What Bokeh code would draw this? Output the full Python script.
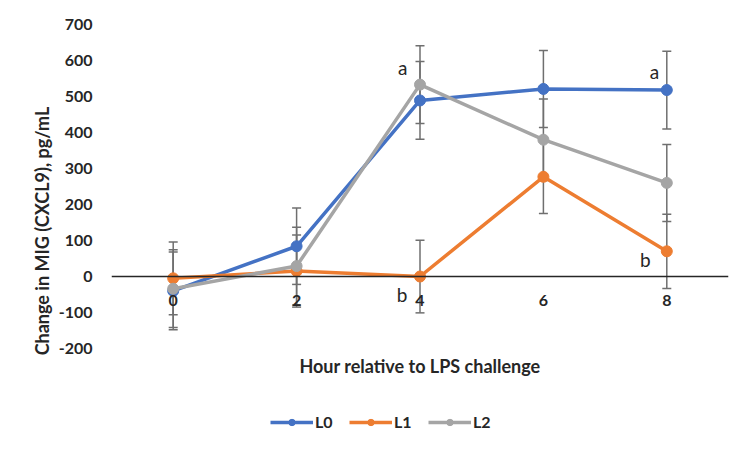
from bokeh.plotting import figure
from bokeh.models import (ColumnDataSource, Whisker, TeeHead, FixedTicker, Legend,
                          LegendItem, Label, Range1d)
from bokeh.core.properties import value
from bokeh.embed import file_html
from bokeh.resources import INLINE

hours = [0, 2, 4, 6, 8]
hour_labels = ["0", "2", "4", "6", "8"]
series_names = ["L0", "L1", "L2"]
L0 = [-40, 84, 489, 521, 518]
L0_err = [108, 106, 108, 107, 108]
L1 = [-5, 15, 0, 277, 70]
L1_err = [101, 100, 101, 102, 103]
L2 = [-34, 29, 533, 380, 260]
L2_err = [108, 108, 108, 113, 107]
letters = ["a", "a", "b", "b"]
letter_x = [3.72, 7.8, 3.71, 7.65]
letter_y = [580, 570, -50, 47]
y_ticks = [-200, -100, 0, 100, 200, 300, 400, 500, 600, 700]
y_tick_labels = ["-200", "-100", "0", "100", "200", "300", "400", "500", "600", "700"]
y_top = 700
y_bottom = -200

colors = ["#4472C4", "#ED7D31", "#A5A5A5"]
FONT = "Lato"
TXT = "#262626"

W, H = 736, 437
TOP, LEFT, RIGHT = 24, 111, 8
PLOT_H = 324  # pixels between 700 and -200
units_per_px = (y_top - y_bottom) / PLOT_H
frame_bottom_val = y_top - (H - TOP) * units_per_px

p = figure(width=W, height=H, output_backend="svg", toolbar_location=None,
           x_range=Range1d(-1, 9), y_range=Range1d(frame_bottom_val, y_top),
           min_border_left=LEFT, min_border_right=RIGHT, min_border_top=TOP,
           min_border_bottom=0)
p.outline_line_color = None
p.xgrid.visible = False
p.ygrid.visible = False

# y axis
p.yaxis.ticker = FixedTicker(ticks=y_ticks)
p.yaxis.major_label_overrides = {t: l for t, l in zip(y_ticks, y_tick_labels)}
p.yaxis.axis_line_color = None
p.yaxis.major_tick_line_color = None
p.yaxis.minor_tick_line_color = None
p.yaxis.major_tick_out = 0
p.yaxis.major_tick_in = 0
p.yaxis.major_label_standoff = 19
p.yaxis.major_label_text_font = FONT
p.yaxis.major_label_text_font_style = "bold"
p.yaxis.major_label_text_font_size = "16px"
p.yaxis.major_label_text_color = TXT
p.yaxis.axis_label = "Change in MIG (CXCL9), pg/mL"
p.yaxis.axis_label_text_font = FONT
p.yaxis.axis_label_text_font_style = "bold"
p.yaxis.axis_label_text_font_size = "18px"
p.yaxis.axis_label_text_color = TXT
p.yaxis.axis_label_standoff = 3

# x axis crossing at 0
p.xaxis.fixed_location = 0
p.xaxis.ticker = FixedTicker(ticks=hours)
p.xaxis.major_label_overrides = {h: l for h, l in zip(hours, hour_labels)}
p.xaxis.axis_line_color = TXT
p.xaxis.axis_line_width = 1.3
p.xaxis.major_tick_line_color = None
p.xaxis.minor_tick_line_color = None
p.xaxis.major_label_standoff = 12
p.xaxis.major_label_text_font = FONT
p.xaxis.major_label_text_font_style = "bold"
p.xaxis.major_label_text_font_size = "16px"
p.xaxis.major_label_text_color = TXT

p.add_layout(Label(x=4, y=y_bottom, y_offset=-17, text="Hour relative to LPS challenge",
                   text_font=FONT, text_font_style="bold", text_font_size="18px",
                   text_color=TXT, text_align="center", text_baseline="middle"))

for name, vals, errs in zip(series_names, [L0, L1, L2], [L0_err, L1_err, L2_err]):
    src = ColumnDataSource(dict(x=hours,
                                lo=[v - e for v, e in zip(vals, errs)],
                                hi=[v + e for v, e in zip(vals, errs)]))
    w = Whisker(source=src, base="x", lower="lo", upper="hi",
                line_color="#6f6f6f", line_width=1.5,
                upper_head=TeeHead(size=9, line_color="#6f6f6f", line_width=1.5),
                lower_head=TeeHead(size=9, line_color="#6f6f6f", line_width=1.5),
                level="underlay")
    p.add_layout(w)

items = []
for name, vals, c in zip(series_names, [L0, L1, L2], colors):
    src = ColumnDataSource(dict(x=hours, y=vals))
    r1 = p.line("x", "y", source=src, line_color=c, line_width=3.5)
    r2 = p.scatter("x", "y", source=src, size=11, fill_color=c, line_color=c)
    items.append(LegendItem(label=name, renderers=[r1, r2]))

p.text(x=letter_x, y=letter_y, text=letters, text_font=value(FONT),
       text_font_size="19px", text_color=TXT, text_align="center",
       text_baseline="middle")

legend = Legend(items=items, orientation="horizontal", location=(159, 6),
                glyph_width=43, glyph_height=16, label_standoff=2, spacing=14,
                label_text_font=FONT, label_text_font_style="bold",
                label_text_font_size="16px", label_text_color=TXT,
                border_line_color=None, background_fill_alpha=0, padding=0,
                margin=0)
p.add_layout(legend, "center")

open("out.html", "w").write(file_html(p, INLINE))
